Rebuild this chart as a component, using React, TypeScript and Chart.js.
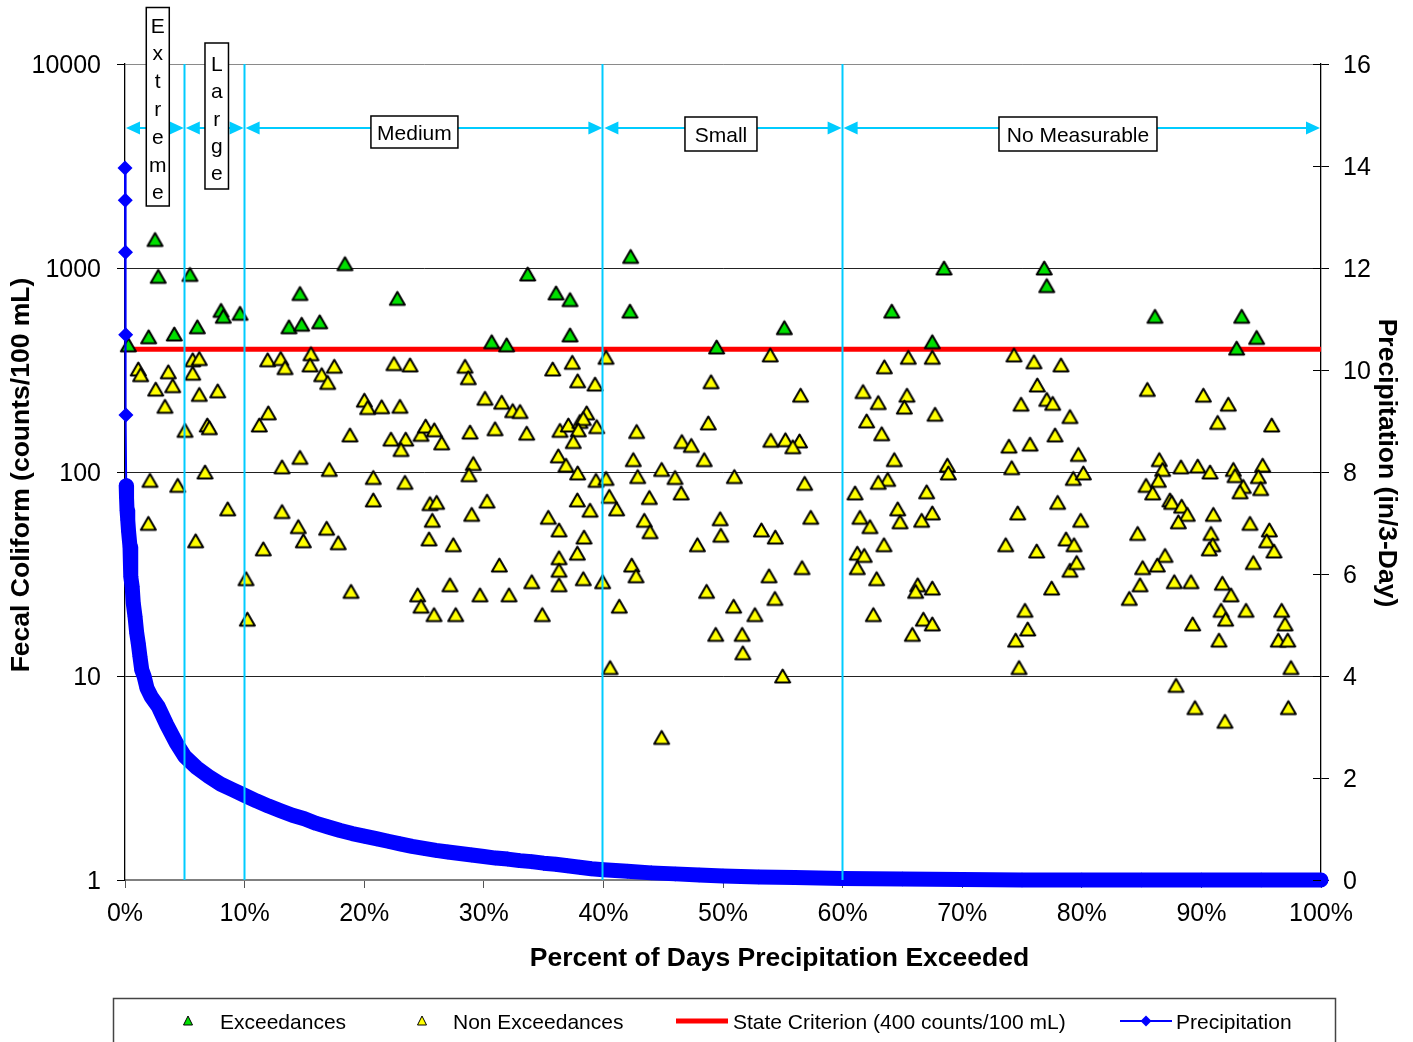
import React, { useEffect, useRef } from 'react';
import { Chart, registerables } from 'chart.js';

Chart.register(...registerables);

const FONT = "'Liberation Sans', Arial, Helvetica, sans-serif";

// ---- data ----
const criterion = 400; // counts/100 mL
const zoneBounds = [0, 5, 10, 40, 60, 100]; // percent of days precipitation exceeded
const zoneLabels = ['Extreme', 'Large', 'Medium', 'Small', 'No Measurable'];
const leftTicks = [1, 10, 100, 1000, 10000];
const xTitle = 'Percent of Days Precipitation Exceeded';
const yTitle = 'Fecal Coliform (counts/100 mL)';
const y2Title = 'Precipitation (in/3-Day)';
const legendLabels = ['Exceedances', 'Non Exceedances', 'State Criterion (400 counts/100 mL)', 'Precipitation'];

// samples above the criterion: [percent, counts/100 mL]
const exceedances: [number, number][] = [
  [0.28, 420], [1.98, 460], [2.51, 1380], [2.78, 910], [4.12, 475], [5.43, 930], [6.05, 515],
  [8.03, 620], [8.22, 580], [9.62, 600], [13.71, 515], [14.63, 750], [14.77, 530], [16.28, 545],
  [18.39, 1050], [22.77, 710], [30.66, 435], [31.91, 420], [33.67, 935], [36.04, 755], [37.21, 700],
  [37.21, 470], [42.22, 615], [42.28, 1140], [49.47, 410], [55.13, 510], [64.11, 615], [67.5, 435],
  [68.48, 1000], [76.86, 1000], [77.07, 820], [86.12, 580], [92.95, 405], [93.37, 580], [94.62, 457],
];

// samples at or below the criterion: [percent, counts/100 mL]
const nonExceedances: [number, number][] = [
  [1.11, 320], [1.31, 300], [3.62, 310], [5.66, 355], [6.21, 360], [5.66, 305], [2.57, 255], [3.99, 265],
  [3.34, 210], [6.21, 240], [7.75, 250], [11.93, 355], [13.02, 360], [13.38, 325], [5.02, 160], [6.88, 170],
  [7.05, 165], [11.23, 170], [11.98, 195], [2.09, 91], [4.41, 86], [6.69, 100], [13.13, 106], [8.59, 66],
  [13.13, 64], [1.95, 56], [5.91, 46], [11.56, 42], [10.12, 30], [10.23, 19],
  [15.55, 380], [15.47, 335], [16.45, 300], [17.5, 330], [16.95, 275], [22.49, 340], [23.83, 335],
  [28.43, 330], [28.7, 290], [30.1, 230], [20.01, 225], [20.29, 207], [21.46, 209], [22.99, 210],
  [18.81, 152], [22.24, 145], [23.47, 145], [23.08, 129], [24.75, 153], [25.14, 168], [25.86, 161],
  [26.48, 139], [28.85, 157], [14.63, 118], [17.08, 103], [20.76, 94], [23.41, 89], [29.12, 110],
  [28.76, 97], [20.76, 73], [25.5, 70], [26.06, 71], [25.69, 58], [28.99, 62], [30.27, 72], [14.49, 54],
  [16.86, 53], [14.91, 46], [17.83, 45], [25.42, 47], [27.45, 44], [18.9, 26], [24.47, 25], [24.75, 22],
  [25.84, 20], [27.65, 20], [27.17, 28], [29.68, 25],
  [40.22, 365], [35.76, 320], [37.4, 345], [37.85, 280], [39.3, 270], [31.5, 220], [32.42, 200],
  [33.03, 198], [30.94, 163], [33.59, 155], [36.37, 160], [37.07, 170], [38.6, 195], [38.04, 177],
  [38.32, 183], [37.9, 161], [37.48, 141], [39.44, 167], [42.78, 158], [36.23, 120], [36.87, 108],
  [37.85, 99], [39.38, 91], [40.22, 93], [42.5, 115], [42.87, 95], [44.87, 103], [45.99, 94], [37.82, 73],
  [38.88, 65], [40.49, 76], [41.11, 66], [43.84, 75], [35.39, 60], [36.29, 52], [43.42, 58], [43.9, 51],
  [38.38, 48], [37.82, 40], [36.29, 38], [36.29, 33], [36.29, 28], [38.32, 30], [39.94, 29], [34.01, 29],
  [31.3, 35], [42.37, 35], [42.73, 31], [32.11, 25], [34.89, 20], [41.33, 22],
  [53.95, 375], [49.0, 277], [56.49, 238], [48.77, 174], [46.56, 141], [47.35, 135], [48.43, 115],
  [54.0, 143], [55.22, 144], [56.4, 142], [55.84, 133], [46.5, 79], [50.95, 95], [56.83, 88], [49.76, 59],
  [49.82, 49], [47.86, 44], [53.21, 52], [54.37, 48], [57.34, 60], [48.63, 26], [53.85, 31], [56.61, 34],
  [54.34, 24], [50.89, 22], [52.67, 20], [49.39, 16], [51.6, 16], [51.66, 13], [40.56, 11], [54.99, 10],
  [44.87, 5],
  [65.49, 365], [67.5, 365], [63.49, 328], [74.33, 375], [76.0, 347], [78.26, 335], [76.28, 267],
  [61.71, 248], [62.98, 219], [65.38, 238], [65.16, 208], [74.92, 215], [77.07, 227], [77.57, 217],
  [79.01, 187], [67.73, 192], [62.01, 178], [63.27, 154], [73.91, 134], [75.67, 137], [77.76, 152],
  [64.32, 115], [68.76, 108], [68.84, 99], [74.14, 105], [63.77, 92], [62.98, 89], [61.04, 79], [67.03, 80],
  [64.61, 66], [67.5, 63], [61.45, 60], [62.29, 54], [64.8, 57], [66.61, 58], [77.98, 71], [74.64, 63],
  [63.46, 44], [61.23, 40], [61.81, 39], [61.23, 34], [73.64, 44], [76.23, 41], [78.68, 47], [79.01, 33],
  [62.85, 30], [66.28, 28], [66.11, 26], [67.5, 27], [77.48, 27], [62.57, 20], [66.75, 19], [67.5, 18],
  [65.83, 16], [75.25, 21], [75.48, 17], [74.47, 15], [74.75, 11],
  [85.48, 254], [90.16, 238], [92.25, 215], [91.36, 175], [95.88, 170], [79.71, 122], [79.29, 93],
  [80.13, 99], [86.48, 115], [86.76, 103], [88.29, 106], [89.69, 107], [90.72, 100], [92.67, 103],
  [92.81, 96], [95.12, 108], [94.76, 95], [85.37, 86], [86.4, 91], [85.93, 79], [93.5, 85], [93.23, 80],
  [94.96, 83], [87.37, 73], [87.52, 71], [88.35, 68], [88.82, 62], [88.07, 57], [91.0, 62], [94.06, 56],
  [95.68, 52], [95.46, 46], [96.07, 41], [90.8, 50], [90.95, 44], [90.66, 42], [79.91, 58], [79.35, 44],
  [79.57, 36], [84.67, 50], [86.96, 39], [86.31, 35], [85.09, 34], [84.87, 28], [83.97, 24], [87.73, 29],
  [89.13, 29], [91.75, 28.5], [92.47, 25], [94.34, 36], [91.64, 21], [92.03, 19], [93.73, 21], [96.71, 21],
  [96.99, 18], [96.43, 15], [97.22, 15], [89.27, 18], [91.47, 15], [97.49, 11], [87.88, 9], [89.46, 7],
  [91.97, 6], [97.27, 7],
];

// 3-day precipitation duration curve (inches)
const precipPct = [
  0, 0.02, 0.04, 0.06, 0.08, 0.1, 0.13, 0.17, 0.23, 0.3,
  0.42, 0.46, 0.5, 0.6, 0.69, 0.84, 0.98, 1.11, 1.25, 1.4,
  1.59, 1.84, 2.2, 2.78, 3.5, 4.3, 5, 6, 7, 8,
  9, 10, 11, 12, 13, 14, 15, 16, 17, 18,
  19, 20, 21, 22, 23, 24, 25, 26, 27, 28,
  29, 30, 31, 32, 33, 34, 35, 36, 37, 38,
  39, 40, 42, 44, 46, 48, 50, 53, 56, 60,
  65, 70, 75, 80, 85, 90, 95, 100,
];
const precipIn = [
  13.96, 13.33, 12.31, 10.69, 9.12, 7.73, 7.49, 7.25, 7.06, 6.83,
  6.53, 6.31, 5.95, 5.75, 5.43, 5.16, 4.84, 4.64, 4.38, 4.12,
  4.0, 3.76, 3.59, 3.4, 3.04, 2.68, 2.42, 2.2, 2.03, 1.88,
  1.77, 1.66, 1.55, 1.45, 1.36, 1.27, 1.2, 1.11, 1.04, 0.97,
  0.91, 0.86, 0.81, 0.76, 0.71, 0.66, 0.62, 0.58, 0.55, 0.52,
  0.49, 0.46, 0.43, 0.41, 0.38, 0.36, 0.33, 0.31, 0.28, 0.25,
  0.22, 0.2, 0.17, 0.14, 0.12, 0.1, 0.08, 0.06, 0.05, 0.03,
  0.02, 0.01, 0, 0, 0, 0, 0, 0,
];

// ---- styling ----
const GREEN = '#00E000';
const YELLOW = '#FFFF00';
const RED = '#FF0000';
const BLUE = '#0000FF';
const CYAN = '#00CCFF';

// label boxes of the flow zones (x centre in percent, the rest in pixels)
const zoneBoxes = [
  { at: 2.74, vertical: true, w: 23, top: 7.5, bottom: 206, base: 32.5, step: 27.8 },
  { at: 7.67, vertical: true, w: 23.5, top: 43, bottom: 189, base: 70.8, step: 27.4 },
  { at: 24.2, vertical: false, w: 87, h: 32, cy: 132 },
  { at: 49.83, vertical: false, w: 72, h: 34, cy: 134 },
  { at: 79.68, vertical: false, w: 158, h: 34, cy: 134 },
];

function makeTriangle(fill: string) {
  const c = document.createElement('canvas');
  c.width = 21;
  c.height = 18;
  const g = c.getContext('2d')!;
  g.beginPath();
  g.moveTo(10.5, 2.5);
  g.lineTo(18, 15.5);
  g.lineTo(3, 15.5);
  g.closePath();
  g.fillStyle = fill;
  g.fill();
  g.lineWidth = 2;
  g.lineJoin = 'round';
  g.strokeStyle = '#000';
  g.stroke();
  return c;
}

function fitScale(size: { width?: number; height?: number }) {
  return (s: any) => {
    if (size.width !== undefined) s.width = size.width;
    if (size.height !== undefined) s.height = size.height;
    s.paddingLeft = 0;
    s.paddingRight = 0;
    s.paddingTop = 0;
    s.paddingBottom = 0;
  };
}

const overlay = {
  id: 'overlay',
  afterDatasetsDraw(chart: any) {
    const { ctx, chartArea: ca, scales } = chart;
    const xs = scales.x;
    ctx.save();
    // zone boundaries
    ctx.strokeStyle = CYAN;
    ctx.fillStyle = CYAN;
    ctx.lineWidth = 2;
    for (let i = 1; i < zoneBounds.length - 1; i++) {
      const px = Math.round(xs.getPixelForValue(zoneBounds[i])) - 0.5;
      ctx.beginPath();
      ctx.moveTo(px, ca.top);
      ctx.lineTo(px, ca.bottom);
      ctx.stroke();
    }
    // double arrows
    const ay = 128;
    const head = 14;
    const half = 6.5;
    for (let i = 0; i < zoneLabels.length; i++) {
      const a = xs.getPixelForValue(zoneBounds[i]) + 1;
      const b = xs.getPixelForValue(zoneBounds[i + 1]) - 1;
      ctx.beginPath();
      ctx.moveTo(a + head - 2, ay);
      ctx.lineTo(b - head + 2, ay);
      ctx.stroke();
      ctx.beginPath();
      ctx.moveTo(a, ay);
      ctx.lineTo(a + head, ay - half);
      ctx.lineTo(a + head, ay + half);
      ctx.closePath();
      ctx.fill();
      ctx.beginPath();
      ctx.moveTo(b, ay);
      ctx.lineTo(b - head, ay - half);
      ctx.lineTo(b - head, ay + half);
      ctx.closePath();
      ctx.fill();
    }
    // label boxes
    ctx.font = `21px ${FONT}`;
    ctx.lineWidth = 1.5;
    ctx.strokeStyle = '#000';
    zoneBoxes.forEach((bx: any, i: number) => {
      const cx = xs.getPixelForValue(bx.at);
      const label = zoneLabels[i];
      ctx.textAlign = 'center';
      ctx.textBaseline = 'alphabetic';
      if (bx.vertical) {
        const l = cx - bx.w / 2;
        ctx.fillStyle = '#fff';
        ctx.fillRect(l, bx.top, bx.w, bx.bottom - bx.top);
        ctx.strokeRect(l, bx.top, bx.w, bx.bottom - bx.top);
        ctx.fillStyle = '#000';
        Array.from(label).forEach((ch, k) => ctx.fillText(ch, cx, bx.base + k * bx.step));
      } else {
        const l = cx - bx.w / 2;
        const t = bx.cy - bx.h / 2;
        ctx.fillStyle = '#fff';
        ctx.fillRect(l, t, bx.w, bx.h);
        ctx.strokeRect(l, t, bx.w, bx.h);
        ctx.fillStyle = '#000';
        ctx.fillText(label, cx, bx.cy + 7.5);
      }
    });
    ctx.restore();
  },
  afterDraw(chart: any) {
    const { ctx, chartArea: ca, scales } = chart;
    ctx.save();
    // inner tick marks of the right axis
    ctx.strokeStyle = '#000';
    ctx.lineWidth = 1;
    for (let v = 0; v <= 16; v += 2) {
      const y = Math.round(scales.y2.getPixelForValue(v)) + 0.5;
      ctx.beginPath();
      ctx.moveTo(ca.right - 8, y);
      ctx.lineTo(ca.right, y);
      ctx.stroke();
    }
    // axis titles
    ctx.fillStyle = '#000';
    ctx.font = `bold 26.5px ${FONT}`;
    ctx.textAlign = 'center';
    ctx.textBaseline = 'middle';
    ctx.save();
    ctx.translate(22, 475);
    ctx.rotate(-Math.PI / 2);
    ctx.fillText(yTitle, 0, 0);
    ctx.restore();
    ctx.save();
    ctx.translate(1386, 463);
    ctx.rotate(Math.PI / 2);
    ctx.fillText(y2Title, 0, 0);
    ctx.restore();
    ctx.fillText(xTitle, 779.5, 958.5);

    // legend
    ctx.strokeStyle = '#444';
    ctx.lineWidth = 1.5;
    ctx.strokeRect(113.5, 998.5, 1222, 60);
    const ly = 1021;
    const tri = (x: number, fill: string) => {
      ctx.beginPath();
      ctx.moveTo(x, ly - 5);
      ctx.lineTo(x + 4.5, ly + 4);
      ctx.lineTo(x - 4.5, ly + 4);
      ctx.closePath();
      ctx.fillStyle = fill;
      ctx.fill();
      ctx.strokeStyle = '#000';
      ctx.lineWidth = 1;
      ctx.stroke();
    };
    tri(188, GREEN);
    tri(422, YELLOW);
    ctx.strokeStyle = RED;
    ctx.lineWidth = 5;
    ctx.beginPath();
    ctx.moveTo(676, ly);
    ctx.lineTo(728, ly);
    ctx.stroke();
    ctx.strokeStyle = BLUE;
    ctx.lineWidth = 2;
    ctx.beginPath();
    ctx.moveTo(1120, ly);
    ctx.lineTo(1172, ly);
    ctx.stroke();
    ctx.fillStyle = BLUE;
    ctx.beginPath();
    ctx.moveTo(1146, ly - 5.5);
    ctx.lineTo(1151.5, ly);
    ctx.lineTo(1146, ly + 5.5);
    ctx.lineTo(1140.5, ly);
    ctx.closePath();
    ctx.fill();
    ctx.fillStyle = '#000';
    ctx.font = `21px ${FONT}`;
    ctx.textAlign = 'left';
    ctx.textBaseline = 'alphabetic';
    const lx = [220, 453, 733, 1176];
    legendLabels.forEach((t, i) => ctx.fillText(t, lx[i], ly + 7.5));
    ctx.restore();
  },
};

export default function App() {
  const ref = useRef<HTMLCanvasElement>(null);

  useEffect(() => {
    document.body.style.margin = '0';
    const canvas = ref.current;
    if (!canvas) return;
    const greenTri = makeTriangle(GREEN);
    const yellowTri = makeTriangle(YELLOW);

    const chart = new Chart(canvas, {
      type: 'scatter',
      data: {
        datasets: [
          {
            type: 'line',
            label: legendLabels[3],
            data: precipPct.map((p, i) => ({ x: p, y: precipIn[i] })),
            yAxisID: 'y2',
            borderColor: BLUE,
            backgroundColor: BLUE,
            borderWidth: 2,
            borderJoinStyle: 'round',
            borderCapStyle: 'round',
            pointStyle: 'rectRot',
            pointRadius: 7.5,
            pointBackgroundColor: BLUE,
            pointBorderColor: BLUE,
            pointBorderWidth: 0,
            tension: 0,
            clip: false,
            segment: {
              borderWidth: (c: any) => (c.p0.parsed.x >= 0.1 ? 15 : 2),
            },
          } as any,
          {
            label: legendLabels[0],
            data: exceedances.map(([x, y]) => ({ x, y })),
            yAxisID: 'y',
            pointStyle: greenTri as any,
            pointRadius: 8,
            clip: false,
          } as any,
          {
            label: legendLabels[1],
            data: nonExceedances.map(([x, y]) => ({ x, y })),
            yAxisID: 'y',
            pointStyle: yellowTri as any,
            pointRadius: 8,
            clip: false,
          } as any,
          {
            type: 'line',
            label: legendLabels[2],
            data: [
              { x: zoneBounds[0], y: criterion },
              { x: zoneBounds[zoneBounds.length - 1], y: criterion },
            ],
            yAxisID: 'y',
            borderColor: RED,
            borderWidth: 5,
            pointRadius: 0,
          } as any,
        ],
      },
      options: {
        animation: false,
        responsive: false,
        events: [],
        layout: { padding: { left: 0, right: 0, top: 64, bottom: 62 } },
        plugins: { legend: { display: false }, tooltip: { enabled: false } },
        scales: {
          x: {
            type: 'linear',
            position: 'bottom',
            min: 0,
            max: 100,
            ticks: {
              stepSize: 10,
              autoSkip: false,
              maxRotation: 0,
              padding: 11,
              color: '#000',
              font: { family: FONT, size: 25 },
              callback: (v: any) => `${v}%`,
            },
            grid: { drawOnChartArea: false, drawTicks: true, tickLength: 8, color: '#555' },
            border: { color: '#808080', width: 2 },
            afterFit: fitScale({ height: 100 }),
          },
          y: {
            type: 'logarithmic',
            position: 'left',
            min: 1,
            max: 10000,
            afterBuildTicks: (s: any) => {
              s.ticks = leftTicks.map((v) => ({ value: v }));
            },
            ticks: {
              autoSkip: false,
              padding: 16,
              labelOffset: 2,
              color: '#000',
              font: { family: FONT, size: 25 },
              callback: (v: any) => String(v),
            },
            grid: {
              color: (c: any) => (c.tick && c.tick.value === 10000 ? '#8a8a8a' : '#222'),
              lineWidth: 1,
              tickLength: 8,
              tickColor: '#000',
            },
            border: { color: '#000', width: 1.3 },
            afterFit: fitScale({ width: 125 }),
          },
          y2: {
            type: 'linear',
            position: 'right',
            min: 0,
            max: 16,
            ticks: {
              stepSize: 2,
              padding: 14,
              labelOffset: 2,
              color: '#000',
              font: { family: FONT, size: 25 },
            },
            grid: { drawOnChartArea: false, tickLength: 8, color: '#000' },
            border: { color: '#000', width: 1.3 },
            afterFit: fitScale({ width: 92 }),
          },
        },
      } as any,
      plugins: [overlay],
    });
    return () => chart.destroy();
  }, []);

  return (
    <div style={{ width: 1413, height: 1042, position: 'relative', background: '#fff' }}>
      <canvas ref={ref} width={1413} height={1042} style={{ display: 'block', width: 1413, height: 1042 }} />
    </div>
  );
}
